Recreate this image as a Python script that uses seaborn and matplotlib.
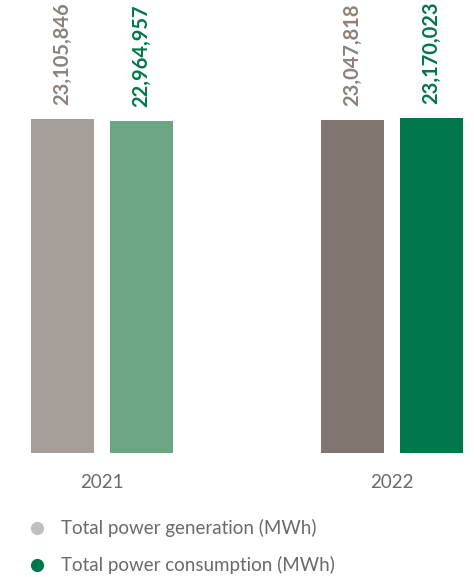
import matplotlib
matplotlib.use("Agg")
import matplotlib.pyplot as plt
from matplotlib.lines import Line2D
import seaborn as sns
import pandas as pd

# Power figures per year (MWh)
years = ["2021", "2022"]
generation = [23105846, 23047818]
consumption = [22964957, 23170023]
series_names = ["Total power generation (MWh)", "Total power consumption (MWh)"]

# Bar fills per series and year, plus label and legend colours
bar_colors = {
    series_names[0]: ["#a59d97", "#80756f"],
    series_names[1]: ["#6ba583", "#00774a"],
}
label_colors = {series_names[0]: "#8a827d", series_names[1]: "#00774a"}
legend_colors = ["#c2bebe", "#00774a"]

df = pd.DataFrame({
    "year": years * 2,
    "series": [series_names[0]] * 2 + [series_names[1]] * 2,
    "value": generation + consumption,
})

sns.set_theme(style="white")
plt.rcParams["font.family"] = ["Lato", "DejaVu Sans"]

W, H = 474, 577
fig = plt.figure(figsize=(W / 100, H / 100), dpi=100)
ax = fig.add_axes([0, (H - 453) / H, 1, 453 / H])

sns.barplot(data=df, x="year", y="value", hue="series", hue_order=series_names,
            order=years, width=0.545, gap=0.215, ax=ax, legend=False,
            saturation=1)

for cont, name in zip(ax.containers, series_names):
    for bar, c in zip(cont, bar_colors[name]):
        bar.set_facecolor(c)
        bar.set_edgecolor("none")
    vals = [b.get_height() for b in cont]
    ax.bar_label(cont, labels=[f"{v:,.0f}" for v in vals], rotation=90,
                 padding=10, color=label_colors[name], fontsize=14.5,
                 fontweight="bold")

ax.set_xlim(-102 / 290, (W - 102) / 290)
ax.set_ylim(0, 23105846 * 453 / 334)
ax.set_xlabel("")
ax.set_ylabel("")
ax.set_yticks([])
ax.tick_params(axis="x", length=0, pad=15, labelsize=13.5, labelcolor="#6a6a6a")
sns.despine(ax=ax, left=True, bottom=True, top=True, right=True)
ax.patch.set_alpha(0)

handles = [Line2D([], [], marker="o", linestyle="none", markersize=9.5,
                  markerfacecolor=c, markeredgecolor="none") for c in legend_colors]
leg = fig.legend(handles, series_names, loc="upper left",
                 bbox_to_anchor=(28 / W, 1 - 519 / H), frameon=False,
                 fontsize=13.5, labelspacing=1.02, handletextpad=0.75,
                 handlelength=1.0, borderaxespad=0, borderpad=0)
for t in leg.get_texts():
    t.set_color("#6a6a6a")

fig.savefig("out.png", dpi=100)
